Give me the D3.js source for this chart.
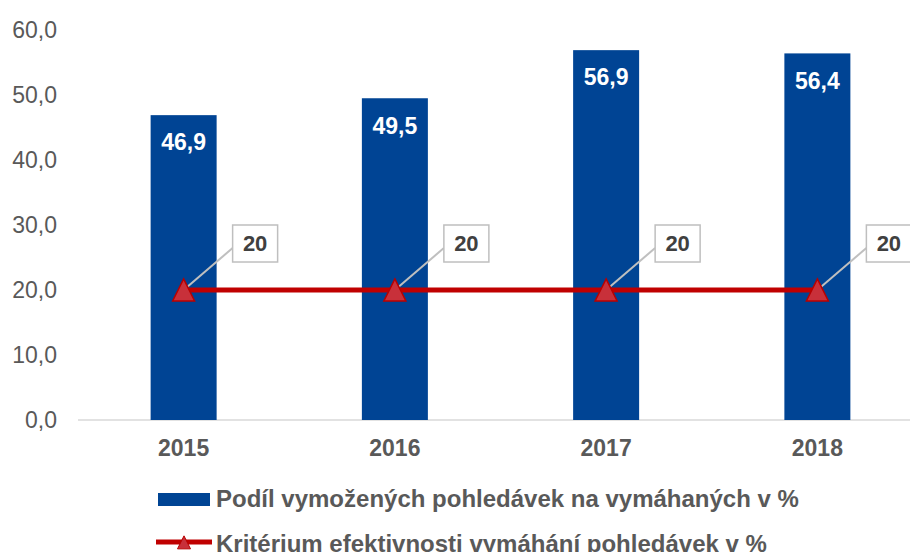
<!DOCTYPE html>
<html><head><meta charset="utf-8">
<script src="https://cdn.jsdelivr.net/npm/d3@7"></script>
<style>body{margin:0;background:#fff}svg{display:block;font-family:"Liberation Sans",Arial,sans-serif}</style>
</head><body><svg id="c" width="910" height="552"></svg>
<script>
const years = ["2015","2016","2017","2018"];
const recovered = [46.9, 49.5, 56.9, 56.4];
const criterion = [20, 20, 20, 20];
const yTicks = [0,10,20,30,40,50,60];
const seriesNames = ["Podíl vymožených pohledávek na vymáhaných v %","Kritérium efektivnosti vymáhání pohledávek v %"];

const svg = d3.select("#c");
const x = d3.scaleBand().domain(years).range([78, 923]).padding(0);
const y = d3.scaleLinear().domain([0,60]).range([420, 30]);
const barW = 66;
const blue = "#004494", red = "#c00000";
const fmt = v => d3.format(".1f")(v).replace(".", ",");

// y labels
svg.append("g").selectAll("text").data(yTicks).join("text")
  .attr("x", 57).attr("y", d => y(d)).attr("dy", "0.36em")
  .attr("text-anchor","end").attr("font-size", 23).attr("fill","#595959")
  .text(fmt);

// axis line
svg.append("line").attr("x1",78).attr("x2",910).attr("y1",y(0)).attr("y2",y(0))
  .attr("stroke","#d9d9d9").attr("stroke-width",1.5);

// bars
const cx = d => x(d) + x.bandwidth()/2;
svg.append("g").selectAll("rect").data(years).join("rect")
  .attr("x", d => cx(d) - barW/2).attr("width", barW)
  .attr("y", (d,i) => y(recovered[i])).attr("height", (d,i) => y(0) - y(recovered[i]))
  .attr("fill", blue);
svg.append("g").selectAll("text").data(years).join("text")
  .attr("x", d => cx(d)).attr("y", (d,i) => y(recovered[i]) + 27).attr("dy","0.36em")
  .attr("text-anchor","middle").attr("font-size",23).attr("font-weight","bold").attr("fill","#fff")
  .text((d,i) => fmt(recovered[i]));

// x labels
svg.append("g").selectAll("text").data(years).join("text")
  .attr("x", d => cx(d)).attr("y", 448).attr("dy","0.36em")
  .attr("text-anchor","middle").attr("font-size",23).attr("font-weight","bold").attr("fill","#595959")
  .text(d => d);

// line
const line = d3.line().x((d,i) => cx(years[i])).y(d => y(d));
svg.append("path").datum(criterion).attr("d", line).attr("fill","none")
  .attr("stroke", red).attr("stroke-width", 5);

// callouts
const cg = svg.append("g");
criterion.forEach((v,i) => {
  const px = cx(years[i]), py = y(v);
  const bx = px + 49, by = py - 65, bw = 45, bh = 37;
  cg.append("line").attr("x1", bx).attr("y1", by + 23).attr("x2", px).attr("y2", py)
    .attr("stroke","#bfbfbf").attr("stroke-width",2);
  cg.append("rect").attr("x",bx).attr("y",by).attr("width",bw).attr("height",bh)
    .attr("fill","#fff").attr("stroke","#bfbfbf").attr("stroke-width",1.5);
  cg.append("text").attr("x", bx + bw/2).attr("y", by + bh/2).attr("dy","0.36em")
    .attr("text-anchor","middle").attr("font-size",22).attr("font-weight","bold").attr("fill","#404040")
    .text(v);
});

// markers
const tri = (sx, sy, s) => `M${sx},${sy - s*0.55}L${sx + s/2},${sy + s*0.45}L${sx - s/2},${sy + s*0.45}Z`;
svg.append("g").selectAll("path").data(criterion).join("path")
  .attr("d", (d,i) => tri(cx(years[i]), y(d) + 1, 22))
  .attr("fill","#c8303a").attr("stroke","#b80000").attr("stroke-width",1.5);

// legend
const lg = svg.append("g");
lg.append("rect").attr("x",158).attr("y",493).attr("width",52).attr("height",13).attr("fill",blue);
lg.append("text").attr("x",216).attr("y",507).attr("font-size",24).attr("font-weight","bold")
  .attr("fill","#595959").text(seriesNames[0]);
lg.append("line").attr("x1",156).attr("x2",212).attr("y1",542).attr("y2",542).attr("stroke",red).attr("stroke-width",5);
lg.append("path").attr("d", tri(184, 543, 13)).attr("fill","#c8303a").attr("stroke","#b80000").attr("stroke-width",1);
lg.append("text").attr("x",216).attr("y",552).attr("font-size",24).attr("font-weight","bold")
  .attr("fill","#595959").text(seriesNames[1]);
</script></body></html>
